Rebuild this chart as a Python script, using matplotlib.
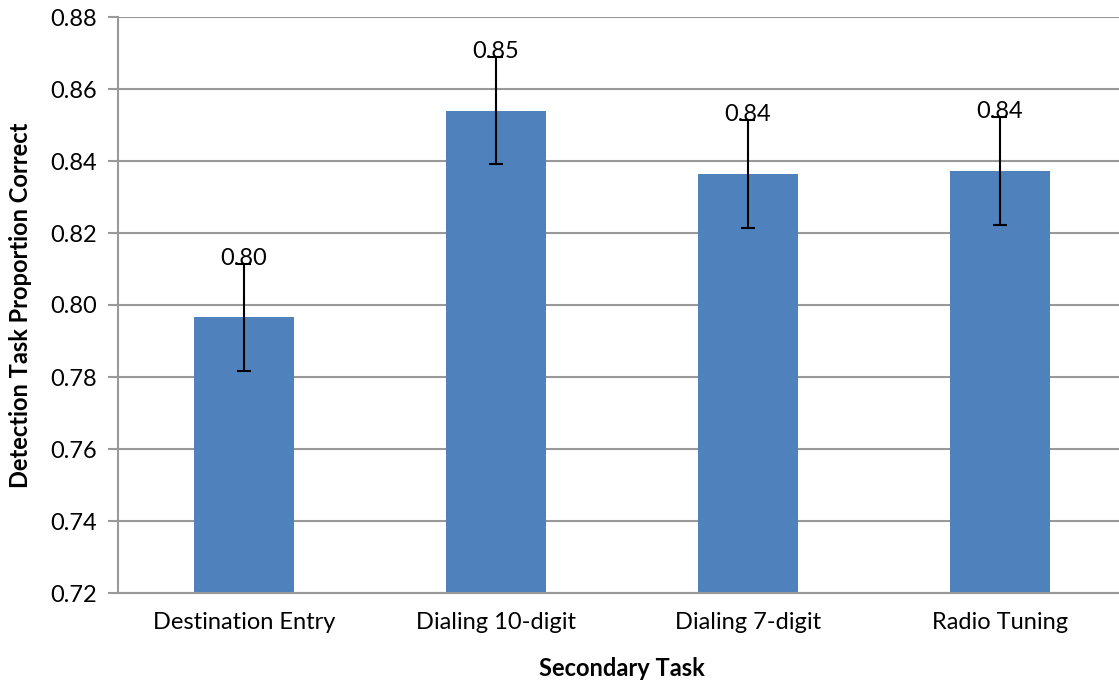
import matplotlib
matplotlib.use("Agg")
import matplotlib.pyplot as plt
import numpy as np

categories = ["Destination Entry", "Dialing 10-digit", "Dialing 7-digit", "Radio Tuning"]
values = [0.7966, 0.8540, 0.8364, 0.8372]
errors = [0.0149, 0.0148, 0.0150, 0.0150]
labels = ["0.80", "0.85", "0.84", "0.84"]
yticks = [0.72, 0.74, 0.76, 0.78, 0.80, 0.82, 0.84, 0.86, 0.88]

plt.rcParams['font.family'] = ['Lato', 'DejaVu Sans']

W, H = 1119, 684
fig = plt.figure(figsize=(W / 100, H / 100), dpi=100)
left, right, top, bottom = 118, 1126, 17, 593
ax = fig.add_axes([left / W, 1 - bottom / H, (right - left) / W, (bottom - top) / H])

x = np.arange(len(categories))
ax.bar(x, values, width=0.4, color="#4F81BD", zorder=2)
ax.errorbar(x, values, yerr=errors, fmt="none", ecolor="black", elinewidth=1.5,
            capsize=5, capthick=1.5, zorder=3)
for xi, v, e, lab in zip(x, values, errors, labels):
    ax.annotate(lab, (xi, v + e), xytext=(0, 4), textcoords="offset points",
                ha="center", va="center", fontsize=17, color="black", zorder=4)

ax.set_xlim(-0.5, len(categories) - 0.5)
ax.set_ylim(0.72, 0.88)
ax.set_yticks(yticks)
ax.set_yticklabels([f"{t:.2f}" for t in yticks], fontsize=17)
ax.set_xticks(x)
ax.set_xticklabels(categories, fontsize=17)
ax.tick_params(axis="x", length=0, pad=14)
ax.tick_params(axis="y", length=7, width=1.5, color="#999999", pad=8)
ax.yaxis.grid(True, color="#999999", linewidth=1.5, zorder=0)
ax.set_axisbelow(True)
for s in ["top", "right"]:
    ax.spines[s].set_visible(False)
for s in ["left", "bottom"]:
    ax.spines[s].set_color("#999999")
    ax.spines[s].set_linewidth(1.5)

ax.set_xlabel("Secondary Task", fontsize=17, fontweight="bold", labelpad=17)
ax.set_ylabel("Detection Task Proportion Correct", fontsize=17, fontweight="bold", labelpad=13)

fig.savefig("out.png", dpi=100)
